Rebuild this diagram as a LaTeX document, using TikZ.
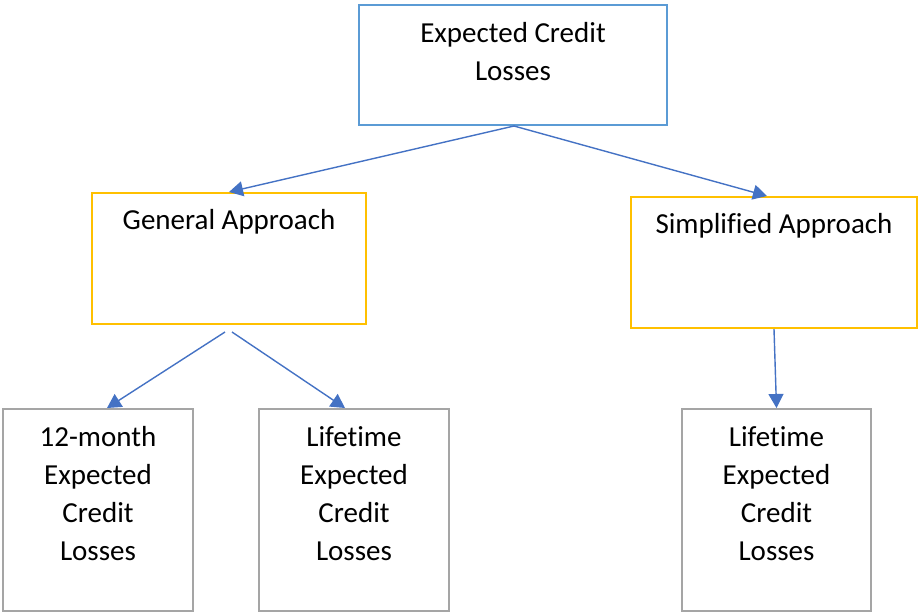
\documentclass[tikz,border=0pt]{standalone}
\usepackage{fontspec}
\setmainfont[Ligatures=NoCommon]{Carlito}
\usetikzlibrary{arrows.meta}
\definecolor{boxblue}{HTML}{5B9BD5}
\definecolor{boxgold}{HTML}{FFC000}
\definecolor{boxgray}{HTML}{A5A5A5}
\definecolor{arrowblue}{HTML}{4472C4}
\tikzset{
  box/.style={draw, line width=2pt, rectangle, inner sep=0pt, fill=white},
  topbox/.style={box, draw=boxblue},
  midbox/.style={box, draw=boxgold},
  lowbox/.style={box, draw=boxgray},
  lbl/.style={anchor=base, inner sep=0pt, font=\fontsize{29}{38}\selectfont},
  conn/.style={draw=arrowblue, line width=1.4pt, -{Triangle[length=14pt,width=15pt]}}
}
\newcommand{\lines}[1]{\parbox[t]{260pt}{\centering #1}}
\begin{document}
\begin{tikzpicture}[x=1pt,y=-1pt]
\useasboundingbox (0,0) rectangle (918,614);
% boxes
\node[topbox, minimum width=308pt, minimum height=120pt] (ecl) at (513,65) {};
\node[midbox, minimum width=274pt, minimum height=131pt] (ga) at (229,258.5) {};
\node[midbox, minimum width=286pt, minimum height=131pt] (sa) at (774,262.5) {};
\node[lowbox, minimum width=190pt, minimum height=202pt] (m12) at (98,510) {};
\node[lowbox, minimum width=190pt, minimum height=202pt] (lt1) at (354,510) {};
\node[lowbox, minimum width=189pt, minimum height=202pt] (lt2) at (776.5,510) {};
% texts
\node[lbl] (tecl) at (513,42) {\lines{Expected Credit\\Losses}};
\node[lbl] (tga) at (229,229) {General Approach};
\node[lbl] (tsa) at (774,233) {Simplified Approach};
\node[lbl] (tm12) at (98,446) {\lines{12-month\\Expected\\Credit\\Losses}};
\node[lbl] (tlt1) at (354,446) {\lines{Lifetime\\Expected\\Credit\\Losses}};
\node[lbl] (tlt2) at (776.5,446) {\lines{Lifetime\\Expected\\Credit\\Losses}};
% connectors
\draw[conn] ([xshift=1pt]ecl.south) -- (ga.north);
\draw[conn] ([xshift=1pt]ecl.south) -- ([xshift=-7pt]sa.north);
\draw[conn] ([xshift=-4pt,yshift=-7pt]ga.south) -- ([xshift=9pt]m12.north);
\draw[conn] ([xshift=3pt,yshift=-7pt]ga.south) -- ([xshift=-9pt]lt1.north);
\draw[conn] (sa.south) -- (lt2.north);
\end{tikzpicture}
\end{document}
